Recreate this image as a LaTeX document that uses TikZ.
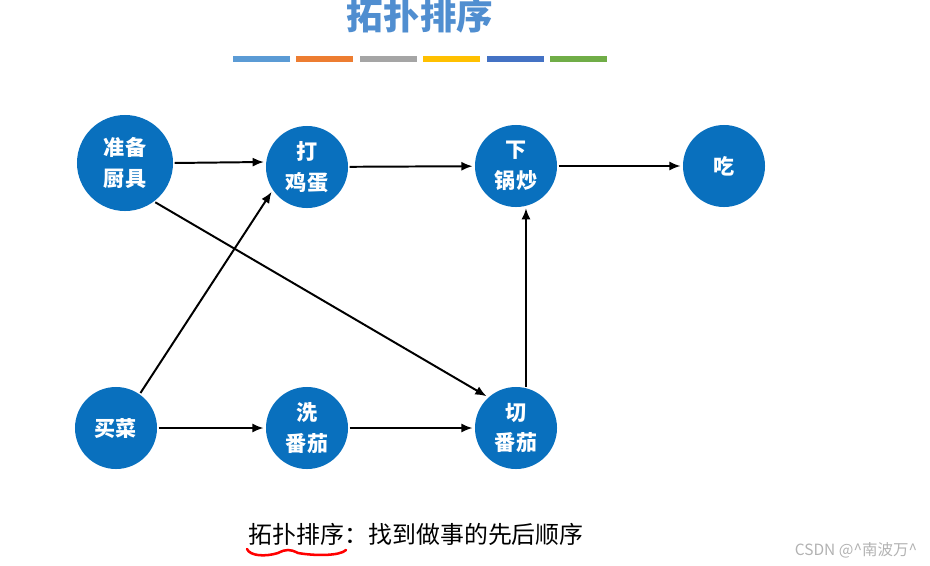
\documentclass[tikz,border=0pt]{standalone}
\usepackage{fontspec}
\newfontfamily\cjk{Noto Sans CJK SC}
\usetikzlibrary{arrows.meta}
\definecolor{taskblue}{RGB}{9,112,190}
\definecolor{titleblue}{RGB}{80,142,208}
\definecolor{barA}{RGB}{91,155,213}
\definecolor{barB}{RGB}{237,125,49}
\definecolor{barC}{RGB}{165,165,165}
\definecolor{barD}{RGB}{255,192,0}
\definecolor{barE}{RGB}{68,114,196}
\definecolor{barF}{RGB}{112,173,71}

\begin{document}
\begin{tikzpicture}[x=0.025cm,y=-0.025cm,
  task/.style={circle,fill=taskblue,text=white,inner sep=0pt,minimum size=2.05cm,align=center,font=\cjk\bfseries\fontsize{15}{22}\selectfont},
  link/.style={-{Latex[length=8pt,width=6.5pt]},line width=1.4pt,shorten >=1.5pt,shorten <=1pt}]
\useasboundingbox (0,0) rectangle (930,566);
\node[text=titleblue,font=\cjk\bfseries\fontsize{26}{30}\selectfont] (title) at (420,16) {拓扑排序};
\foreach \c [count=\i from 0] in {barA,barB,barC,barD,barE,barF}
  \fill[\c] (233+63.4*\i,56) rectangle ++(57,6);
\node[task,minimum size=2.4cm] (zb) at (125,163) {准备\\厨具};
\node[task] (dj) at (307,167) {打\\鸡蛋};
\node[task] (xgc) at (516,166) {下\\锅炒};
\node[task] (chi) at (724,166) {吃};
\node[task] (mc) at (116,428) {买菜};
\node[task] (xfq) at (307,428) {洗\\番茄};
\node[task] (qfq) at (516,428) {切\\番茄};
\draw[link] (zb.east) -- (dj.173);
\draw[link] (dj) -- (xgc);
\draw[link] (xgc) -- (chi);
\draw[link] (zb.-53) -- (qfq.132);
\draw[link] (mc.55) -- (dj.214);
\draw[link] (mc) -- (xfq);
\draw[link] (xfq) -- (qfq);
\draw[link] (qfq.76) -- (xgc.-76);
\node[anchor=west,font=\cjk\fontsize{17}{20}\selectfont] (note) at (244,534) {拓扑排序：找到做事的先后顺序};
\draw[red,line width=1.8pt,line cap=round] (247,549) .. controls (250,556) and (265,557) .. (278,553) .. controls (286,549) and (290,549) .. (298,553) .. controls (315,556) and (340,556) .. (346,550);
\node[text=black!30,font=\cjk\fontsize{11}{13}\selectfont] (mark) at (856,550) {CSDN @\^{}南波万\^{}};
\end{tikzpicture}
\end{document}
